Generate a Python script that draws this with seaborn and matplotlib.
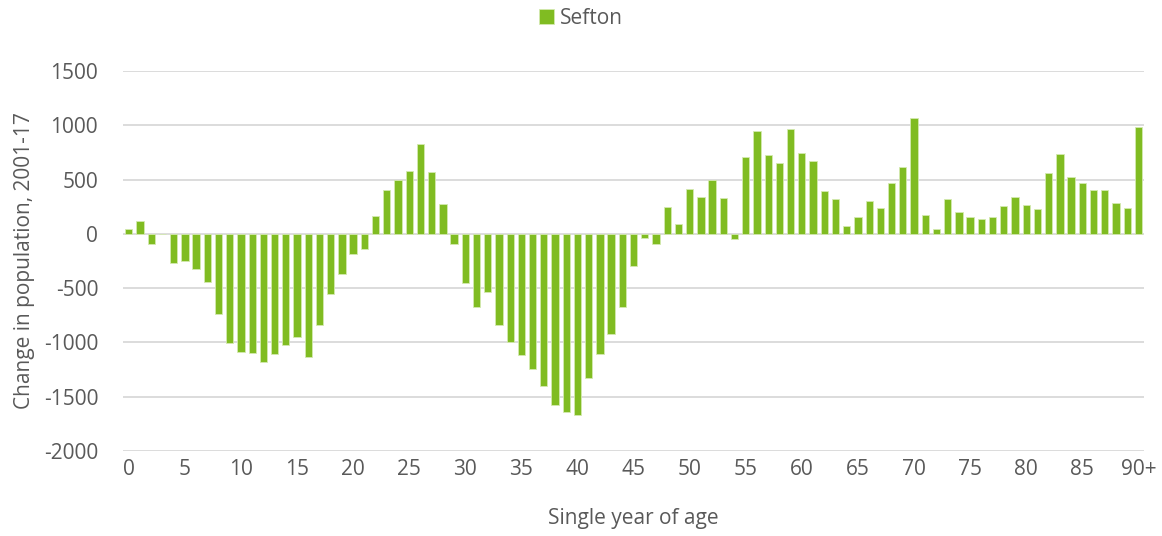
import pandas as pd
import matplotlib
matplotlib.use("Agg")
import matplotlib.pyplot as plt
import seaborn as sns

# single year of age, 0..89 then 90+
ages = [str(a) for a in range(90)] + ["90+"]
change = [40, 115, -95, 0, -267, -252, -328, -442, -737, -1004,
          -1093, -1099, -1185, -1111, -1025, -952, -1136, -838, -556, -368,
          -187, -144, 163, 405, 500, 574, 826, 565, 270, -98,
          -454, -675, -537, -838, -995, -1117, -1243, -1403, -1575, -1646,
          -1673, -1329, -1105, -921, -672, -298, -40, -92, 246, 89,
          414, 338, 497, 332, -52, 709, 946, 728, 651, 967,
          740, 672, 396, 325, 71, 157, 301, 233, 464, 620,
          1071, 175, 40, 322, 203, 157, 132, 153, 252, 341,
          261, 224, 556, 731, 525, 464, 408, 408, 285, 240,
          988]
tick_labels = ["0", "5", "10", "15", "20", "25", "30", "35", "40", "45",
               "50", "55", "60", "65", "70", "75", "80", "85", "90+"]

data = pd.DataFrame({"age": ages, "change": change})

sns.set_style("white")
plt.rcParams['font.family'] = ['Open Sans', 'DejaVu Sans']
plt.rcParams['axes.unicode_minus'] = False
txt = '#595959'

fig = plt.figure(figsize=(11.62, 5.36), dpi=100)
ax = fig.add_axes([0.106, 0.159, 0.8785, 0.7085])

sns.barplot(ax=ax, data=data, x='age', y='change', color='#80bc22',
            saturation=1, width=0.65, edgecolor='#d4eab0', linewidth=0.6,
            label='Sefton')

ax.set_ylim(-2000, 1500)
ax.set_yticks(range(-2000, 1501, 500))
ax.set_xlim(-0.5, len(ages) - 0.5)
ax.set_xticks([ages.index(t) for t in tick_labels])
ax.set_xticklabels(tick_labels)
ax.tick_params(axis='both', length=0, labelsize=15, colors=txt)
ax.tick_params(axis='x', pad=6)
ax.tick_params(axis='y', pad=18)

ax.grid(axis='y', color='#d9d9d9', linewidth=1.3)
ax.set_axisbelow(True)
for s in ax.spines.values():
    s.set_visible(False)

ax.set_xlabel('Single year of age', fontsize=15, color=txt, labelpad=20)
ax.set_ylabel('Change in population, 2001-17', fontsize=15, color=txt, labelpad=6)

if ax.legend_:
    ax.legend_.remove()
handles, labels = ax.get_legend_handles_labels()
fig.legend(handles[:1], labels[:1], loc='upper center', bbox_to_anchor=(0.5, 1.02),
           frameon=False, fontsize=15, labelcolor=txt, handlelength=0.7,
           handleheight=0.7, handletextpad=0.3)

fig.savefig('out.png', dpi=100)
